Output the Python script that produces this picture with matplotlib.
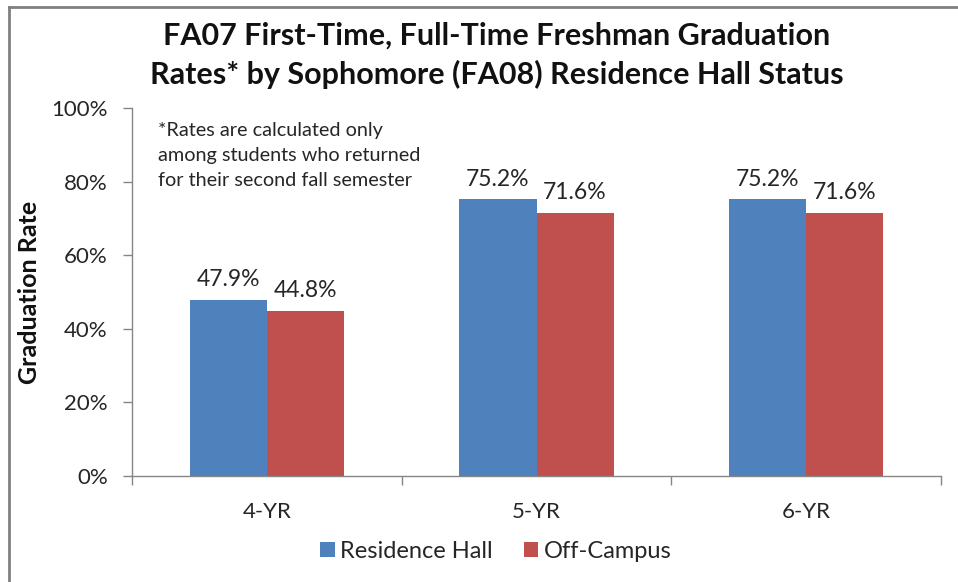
import matplotlib.pyplot as plt
import numpy as np
from matplotlib.lines import Line2D
from matplotlib.ticker import FixedLocator, PercentFormatter

plt.rcParams['font.family'] = ['Lato', 'DejaVu Sans']

categories = ['4-YR', '5-YR', '6-YR']
residence_hall = [47.9, 75.2, 75.2]
off_campus = [44.8, 71.6, 71.6]
series_names = ['Residence Hall', 'Off-Campus']
colors = ['#4F81BD', '#C0504D']
gray = '#868686'

W, H = 958, 582
fig = plt.figure(figsize=(W / 100, H / 100), dpi=100)
ax = fig.add_axes([132 / W, 1 - 476 / H, (941 - 132) / W, (476 - 108) / H])

x = np.arange(len(categories))
bw = 1 / 3.5
b1 = ax.bar(x - bw / 2, residence_hall, bw, color=colors[0], label=series_names[0])
b2 = ax.bar(x + bw / 2, off_campus, bw, color=colors[1], label=series_names[1])

for bars in (b1, b2):
    for rect in bars:
        h = rect.get_height()
        ax.annotate(f'{h:.1f}%', (rect.get_x() + rect.get_width() / 2, h),
                    xytext=(0, 7), textcoords='offset points',
                    ha='center', va='bottom', fontsize=16.5, color='#262626')

ax.set_xlim(-0.5, 2.5)
ax.set_ylim(0, 100)
ax.set_yticks(range(0, 101, 20))
ax.yaxis.set_major_formatter(PercentFormatter(decimals=0))
ax.set_xticks(x)
ax.set_xticklabels(categories)
ax.xaxis.set_minor_locator(FixedLocator([-0.5, 0.5, 1.5, 2.5]))
ax.tick_params(axis='x', which='major', length=0, pad=19, labelsize=16, labelcolor='#262626')
ax.tick_params(axis='x', which='minor', length=6.5, width=1, color=gray, direction='out')
ax.tick_params(axis='y', length=6.5, width=1, color=gray, pad=11, labelsize=16, labelcolor='#262626')

for s in ('top', 'right'):
    ax.spines[s].set_visible(False)
for s in ('left', 'bottom'):
    ax.spines[s].set_color(gray)
    ax.spines[s].set_linewidth(1)

fig.text(497 / W, 1 - 55 / H,
         'FA07 First-Time, Full-Time Freshman Graduation\nRates* by Sophomore (FA08) Residence Hall Status',
         ha='center', va='center', fontsize=22, fontweight='bold', linespacing=1.44, color='#111111')

fig.text(30 / W, 1 - 292 / H, 'Graduation Rate', rotation=90, ha='center', va='center',
         fontsize=18, fontweight='bold', color='#111111')

fig.text(158 / W, 1 - 122 / H,
         '*Rates are calculated only\namong students who returned\nfor their second fall semester',
         ha='left', va='top', fontsize=14.3, linespacing=1.58, color='#262626')

ax.legend(loc='center', bbox_to_anchor=(496 / W, 1 - 551 / H), bbox_transform=fig.transFigure,
          ncol=2, frameon=False, fontsize=17, handlelength=0.6, handleheight=0.6,
          handletextpad=0.25, columnspacing=1.3, labelcolor='#262626')

# chart border (top and left edges visible)
fig.add_artist(Line2D([9 / W, 1], [1 - 7 / H, 1 - 7 / H], transform=fig.transFigure, color='#808080', lw=2))
fig.add_artist(Line2D([9 / W, 9 / W], [0, 1 - 7 / H], transform=fig.transFigure, color='#808080', lw=2))

fig.savefig('out.png', dpi=100)
